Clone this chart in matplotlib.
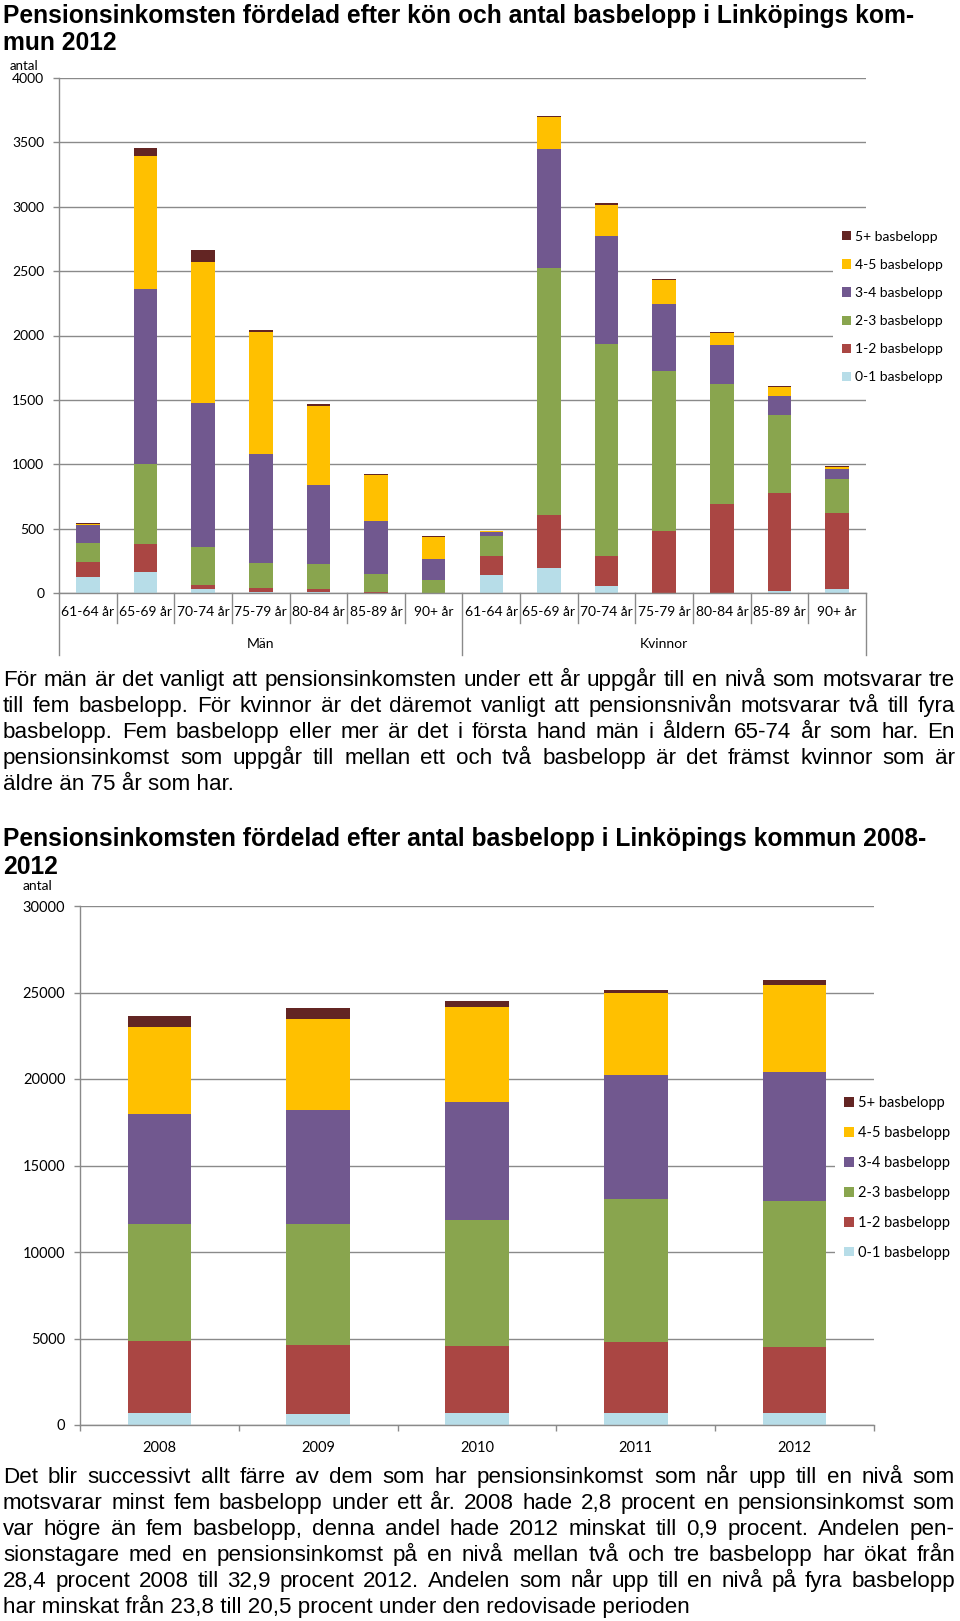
import numpy as np
import matplotlib
matplotlib.use("Agg")
import matplotlib.pyplot as plt
from matplotlib.transforms import blended_transform_factory


W, H = 960, 1621

# legend / band names, bottom to top
bands = ["0-1 basbelopp", "1-2 basbelopp", "2-3 basbelopp",
         "3-4 basbelopp", "4-5 basbelopp", "5+ basbelopp"]
band_colors = ["#B7DDE8", "#AA4643", "#89A54E", "#71588F", "#FFC000", "#632523"]

# chart 1: men (7 age groups) then women (7 age groups)
ages = ["61-64 år", "65-69 år", "70-74 år", "75-79 år", "80-84 år", "85-89 år", "90+ år"]
groups = ["Män", "Kvinnor"]
kon_0_1 = [128, 161, 28, 5, 5, 2, 1,        136, 192, 56, 3, 3, 19, 33]
kon_1_2 = [111, 223, 36, 31, 23, 6, 2,      148, 417, 231, 481, 692, 760, 590]
kon_2_3 = [153, 620, 292, 200, 194, 139, 97, 161, 1919, 1649, 1241, 932, 601, 264]
kon_3_4 = [136, 1360, 1121, 840, 618, 415, 164, 25, 918, 835, 517, 298, 150, 73]
kon_4_5 = [9, 1032, 1090, 952, 615, 356, 170, 11, 254, 242, 186, 92, 67, 22]
kon_5p = [5, 64, 98, 17, 10, 5, 6,          3, 8, 16, 9, 8, 8, 3]

# chart 2: all pensioners per year
years = ["2008", "2009", "2010", "2011", "2012"]
ar_0_1 = [700, 640, 710, 720, 720]
ar_1_2 = [4150, 4010, 3850, 4095, 3786]
ar_2_3 = [6790, 6996, 7304, 8271, 8416]
ar_3_4 = [6358, 6564, 6832, 7120, 7510]
ar_4_5 = [5021, 5247, 5494, 4753, 5021]
ar_5p = [630, 638, 308, 206, 260]

title1 = ["Pensionsinkomsten fördelad efter kön och antal basbelopp i Linköpings kom-",
          "mun 2012"]
text1 = [
    "För män är det vanligt att pensionsinkomsten under ett år uppgår till en nivå som motsvarar tre",
    "till fem basbelopp. För kvinnor är det däremot vanligt att pensionsnivån motsvarar två till fyra",
    "basbelopp. Fem basbelopp eller mer är det i första hand män i åldern 65-74 år som har. En",
    "pensionsinkomst som uppgår till mellan ett och två basbelopp är det främst kvinnor som är",
    "äldre än 75 år som har.",
]
title2 = ["Pensionsinkomsten fördelad efter antal basbelopp i Linköpings kommun 2008-",
          "2012"]
text2 = [
    "Det blir successivt allt färre av dem som har pensionsinkomst som når upp till en nivå som",
    "motsvarar minst fem basbelopp under ett år. 2008 hade 2,8 procent en pensionsinkomst som",
    "var högre än fem basbelopp, denna andel hade 2012 minskat till 0,9 procent. Andelen pen-",
    "sionstagare med en pensionsinkomst på en nivå mellan två och tre basbelopp har ökat från",
    "28,4 procent 2008 till 32,9 procent 2012. Andelen som når upp till en nivå på fyra basbelopp",
    "har minskat från 23,8 till 20,5 procent under den redovisade perioden",
]

GRID = "#8A8A8A"
TXT = "Liberation Sans"
CHART = "Lato"


def px_rect(l, t, r, b):
    return [l / W, 1 - b / H, (r - l) / W, (b - t) / H]


def text_width(fig, s, size, weight="normal"):
    t = fig.text(0, 0, s, fontsize=size, family=TXT, fontweight=weight)
    w = t.get_window_extent(fig.canvas.get_renderer()).width
    t.remove()
    return w


def fit_size(fig, lines, width, weight="normal"):
    widest = max(text_width(fig, s, 14, weight) for s in lines)
    return 14 * width / widest * 0.995


def put_lines(fig, lines, x, y0, dy, size, weight="normal"):
    for i, s in enumerate(lines):
        fig.text(x / W, 1 - (y0 + i * dy) / H, s, fontsize=size, family=TXT,
                 fontweight=weight, va="baseline", ha="left")


def put_justified(fig, lines, x0, x1, y0, dy, size):
    renderer = fig.canvas.get_renderer()
    for i, s in enumerate(lines):
        y = 1 - (y0 + i * dy) / H
        if i == len(lines) - 1:
            fig.text(x0 / W, y, s, fontsize=size, family=TXT, va="baseline")
            continue
        words = s.split(" ")
        objs = [fig.text(0, y, w, fontsize=size, family=TXT, va="baseline") for w in words]
        widths = [o.get_window_extent(renderer).width for o in objs]
        gap = (x1 - x0 - sum(widths)) / (len(words) - 1)
        x = x0
        for o, w in zip(objs, widths):
            o.set_x(x / W)
            x += w + gap


def stack(ax, x, series, width):
    bottom = np.zeros(len(x))
    handles = []
    for vals, name, c in zip(series, bands, band_colors):
        h = ax.bar(x, vals, width, bottom=bottom, color=c, label=name, linewidth=0)
        bottom += np.array(vals)
        handles.append(h)
    return handles


def style_axes(ax, size):
    for side in ["top", "right"]:
        ax.spines[side].set_visible(False)
    for side in ["left", "bottom"]:
        ax.spines[side].set_color(GRID)
        ax.spines[side].set_linewidth(1)
    ax.yaxis.grid(True, color=GRID, linewidth=1)
    ax.set_axisbelow(True)
    ax.tick_params(axis="y", length=4, width=1, color=GRID, pad=6.5, labelsize=size)
    for lab in ax.get_xticklabels() + ax.get_yticklabels():
        lab.set_family(CHART)


def add_legend(ax, handles, left, cy, size, spacing):
    leg = ax.legend(handles[::-1], bands[::-1], loc="center left",
                    bbox_to_anchor=(left / W, 1 - cy / H), bbox_transform=ax.figure.transFigure,
                    frameon=True, fancybox=False, facecolor="white", edgecolor="none",
                    framealpha=1, borderaxespad=0, borderpad=0.65,
                    handlelength=0.65, handleheight=0.65, handletextpad=0.3,
                    labelspacing=spacing, prop={"family": CHART, "size": size})
    return leg


fig = plt.figure(figsize=(W / 100, H / 100), dpi=100)
fig.canvas.draw()

# titles and body text
ts = fit_size(fig, title1[:1], 916, "bold")
put_lines(fig, title1, 3, 23, 27, ts, "bold")
put_lines(fig, title2, 3, 846, 28, ts, "bold")
bs = fit_size(fig, text1[:-1] + text2[:-1], 948)
put_justified(fig, text1, 3, 955, 686, 26, bs)
put_justified(fig, text2, 3, 955, 1483, 26, bs)

# chart 1
top1, bot1 = 78, 593
ax1 = fig.add_axes(px_rect(59, top1, 866, bot1))
x1 = np.arange(14)
h1 = stack(ax1, x1, [kon_0_1, kon_1_2, kon_2_3, kon_3_4, kon_4_5, kon_5p], 0.41)
ax1.set_xlim(-0.5, 13.5)
ax1.set_ylim(0, 4000)
ax1.set_yticks(np.arange(0, 4001, 500))
ax1.set_xticks(x1, ages * 2)
ax1.tick_params(axis="x", length=0, pad=9.5, labelsize=10)
style_axes(ax1, 10)
ax1.set_xticklabels(ages * 2, family=CHART)
fig.text(10 / W, 1 - 66 / H, "antal", fontsize=9.5, family=CHART, va="center")

tr = blended_transform_factory(ax1.transData, ax1.transAxes)
hpx = bot1 - top1
for b in np.arange(-0.5, 14):
    outer = b in (-0.5, 6.5, 13.5)
    depth = (655 if outer else 623) - bot1
    ax1.plot([b, b], [0, -depth / hpx], transform=tr, color=GRID, lw=1, clip_on=False)
for i, g in enumerate(groups):
    ax1.text(3 + 7 * i, -(644 - bot1) / hpx, g, transform=tr, ha="center", va="center",
             fontsize=10, family=CHART)
add_legend(ax1, h1, 833, 307, 10, 1.16)

# chart 2
top2, bot2 = 906, 1425
ax2 = fig.add_axes(px_rect(80, top2, 874, bot2))
x2 = np.arange(5)
h2 = stack(ax2, x2, [ar_0_1, ar_1_2, ar_2_3, ar_3_4, ar_4_5, ar_5p], 0.40)
ax2.set_xlim(-0.5, 4.5)
ax2.set_ylim(0, 30000)
ax2.set_yticks(np.arange(0, 30001, 5000))
ax2.set_xticks(x2, years)
ax2.set_xticks(np.arange(-0.5, 5), minor=True)
ax2.tick_params(axis="x", which="major", length=0, pad=11.5, labelsize=10.5)
ax2.tick_params(axis="x", which="minor", length=4, width=1, color=GRID)
style_axes(ax2, 10.5)
ax2.set_xticklabels(years, family=CHART)
fig.text(23 / W, 1 - 886 / H, "antal", fontsize=10, family=CHART, va="center")
add_legend(ax2, h2, 835, 1178, 10.5, 1.09)

fig.savefig("out.png", dpi=100, facecolor="white")
